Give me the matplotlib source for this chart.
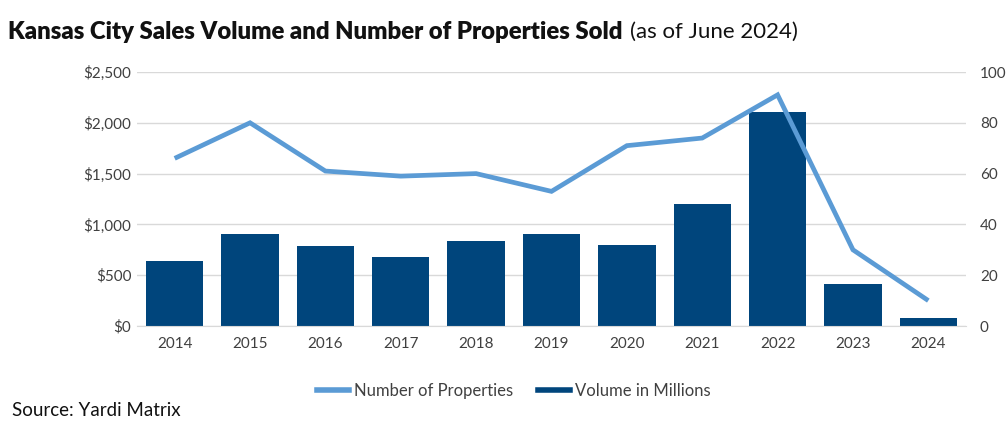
import matplotlib
matplotlib.use("Agg")
import matplotlib.pyplot as plt
from matplotlib.lines import Line2D
import numpy as np

years = ["2014", "2015", "2016", "2017", "2018", "2019", "2020", "2021", "2022", "2023", "2024"]
volume_millions = [640, 910, 785, 680, 835, 910, 795, 1200, 2105, 415, 80]
num_properties = [66, 80, 61, 59, 60, 53, 71, 74, 91, 30, 10]
left_ticks = [0, 500, 1000, 1500, 2000, 2500]
left_labels = ["$0", "$500", "$1,000", "$1,500", "$2,000", "$2,500"]
right_ticks = [0, 20, 40, 60, 80, 100]

BAR = "#00457C"
LINE = "#5B9BD5"
GRID = "#D9D9D9"
TXT = "#404040"

plt.rcParams['font.family'] = ['Lato', 'DejaVu Sans']

fig = plt.figure(figsize=(10.07, 4.33), dpi=100)
ax = fig.add_axes([137/1007, 1-326/433, (966-137)/1007, (326-72)/433])
x = np.arange(len(years))
ax.bar(x, volume_millions, width=0.76, color=BAR, zorder=2)
ax.set_xlim(-0.5, len(years)-0.5)
ax.set_ylim(0, 2500)
ax.set_yticks(left_ticks)
ax.set_yticklabels(left_labels)
ax.set_xticks(x)
ax.set_xticklabels(years)
ax.grid(axis='y', color=GRID, linewidth=1, zorder=0)
for s in ["top", "right", "left"]:
    ax.spines[s].set_visible(False)
ax.spines["bottom"].set_color(GRID)
ax.tick_params(axis='both', length=0, labelsize=11, colors=TXT)
ax.tick_params(axis='x', pad=8)
ax.tick_params(axis='y', pad=4)

ax2 = ax.twinx()
ax2.plot(x, num_properties, color=LINE, linewidth=3.4, solid_capstyle='butt', solid_joinstyle='miter', zorder=3)
ax2.set_ylim(0, 100)
ax2.set_yticks(right_ticks)
for s in ["top", "right", "left", "bottom"]:
    ax2.spines[s].set_visible(False)
ax2.tick_params(axis='y', length=0, labelsize=11, colors=TXT, pad=10)

renderer = fig.canvas.get_renderer()
t1 = fig.text(8/1007, 1-32/433, "Kansas City Sales Volume and Number of Properties Sold", fontsize=15,
              fontweight='heavy', color="#111111", va='center', ha='left')
w = t1.get_window_extent(renderer).width
t1.set_fontsize(15 * 617 / w)
w = t1.get_window_extent(renderer).width
t2 = fig.text((8 + w + 7)/1007, 1-32/433, "(as of June 2024)", fontsize=15, color="#111111", va='center', ha='left')
w2 = t2.get_window_extent(renderer).width
t2.set_fontsize(15 * 168 / w2)

handles = [Line2D([0], [0], color=LINE, linewidth=4),
           Line2D([0], [0], color=BAR, linewidth=4)]
fig.legend(handles, ["Number of Properties", "Volume in Millions"], loc='center',
           bbox_to_anchor=(514/1007, 1-391/433), ncol=2, frameon=False, fontsize=12,
           handlelength=1.9, handletextpad=0.3, columnspacing=1.5, labelcolor=TXT)

fig.text(12/1007, 1-410/433, "Source: Yardi Matrix", fontsize=13.5, color="#111111", va='center', ha='left')

fig.savefig("out.png", dpi=100)
